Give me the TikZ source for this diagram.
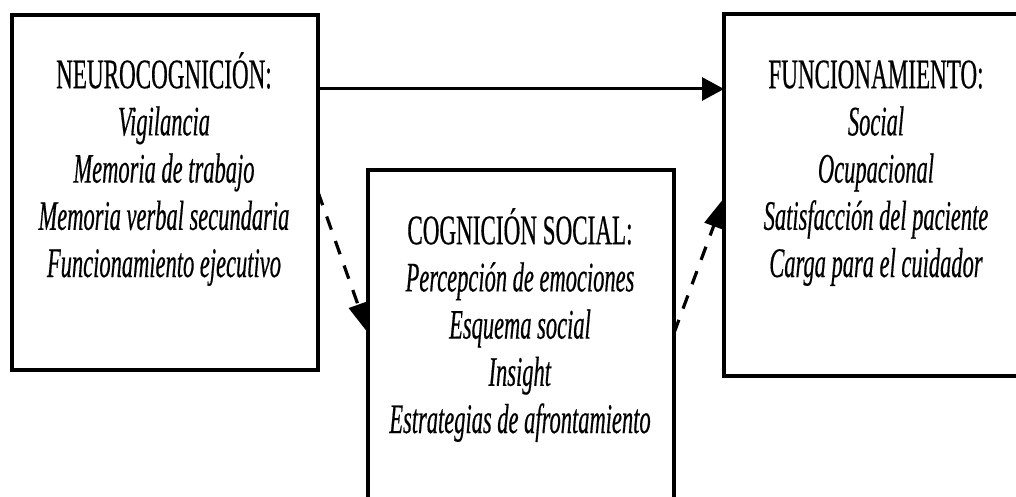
\documentclass[tikz,border=0pt]{standalone}
\usepackage{fontspec}
\setmainfont{Liberation Serif}[FakeStretch=0.55, FakeBold=0.4, ItalicFeatures={FakeStretch=0.535, FakeBold=0.4}]
\usetikzlibrary{arrows.meta}
\begin{document}
\begin{tikzpicture}[x=0.5pt,y=-0.5pt,
  box/.style={draw=black, line width=1.6pt, rectangle, inner sep=0pt, outer sep=0pt},
  txt/.style={align=center, anchor=base, font=\fontsize{21pt}{23.6pt}\selectfont, inner sep=0pt},
  arr/.style={line width=1.5pt, -{Triangle[length=11pt,width=11.5pt]}},
  darr/.style={line width=1.6pt, dash pattern=on 7pt off 6pt, -{Triangle[length=15pt,width=9.5pt]}}
]
\useasboundingbox (0,0) rectangle (1016,497);
\clip (0,0) rectangle (1016,497);
\node[box, minimum width=153pt, minimum height=177.5pt] (lbox) at (165,192.5) {};
\node[box, minimum width=153pt, minimum height=195pt] (mbox) at (521,365) {};
\node[box, minimum width=151pt, minimum height=181pt] (rbox) at (875,195) {};

\node[txt] (ltxt) at (164,277) {NEUROCOGNICIÓN:\\ \textit{Vigilancia}\\ \textit{Memoria de trabajo}\\ \textit{Memoria verbal secundaria}\\ \textit{Funcionamiento ejecutivo}};
\node[txt] (mtxt) at (520,433) {COGNICIÓN SOCIAL:\\ \textit{Percepción de emociones}\\ \textit{Esquema social}\\ \textit{Insight}\\ \textit{Estrategias de afrontamiento}};
\node[txt] (rtxt) at (876,277) {FUNCIONAMIENTO:\\ \textit{Social}\\ \textit{Ocupacional}\\ \textit{Satisfacción del paciente}\\ \textit{Carga para el cuidador}};

\coordinate (a1) at (lbox.east |- 0,89);
\coordinate (a2) at (rbox.west |- 0,89);
\coordinate (b1) at (lbox.east |- 0,192);
\coordinate (b2) at (mbox.west |- 0,333);
\coordinate (c1) at (mbox.east |- 0,333);
\coordinate (c2) at (rbox.west |- 0,198);
\draw[arr] (a1) -- (a2);
\draw[darr] (b1) -- (b2);
\draw[darr] (c1) -- (c2);
\end{tikzpicture}
\end{document}
